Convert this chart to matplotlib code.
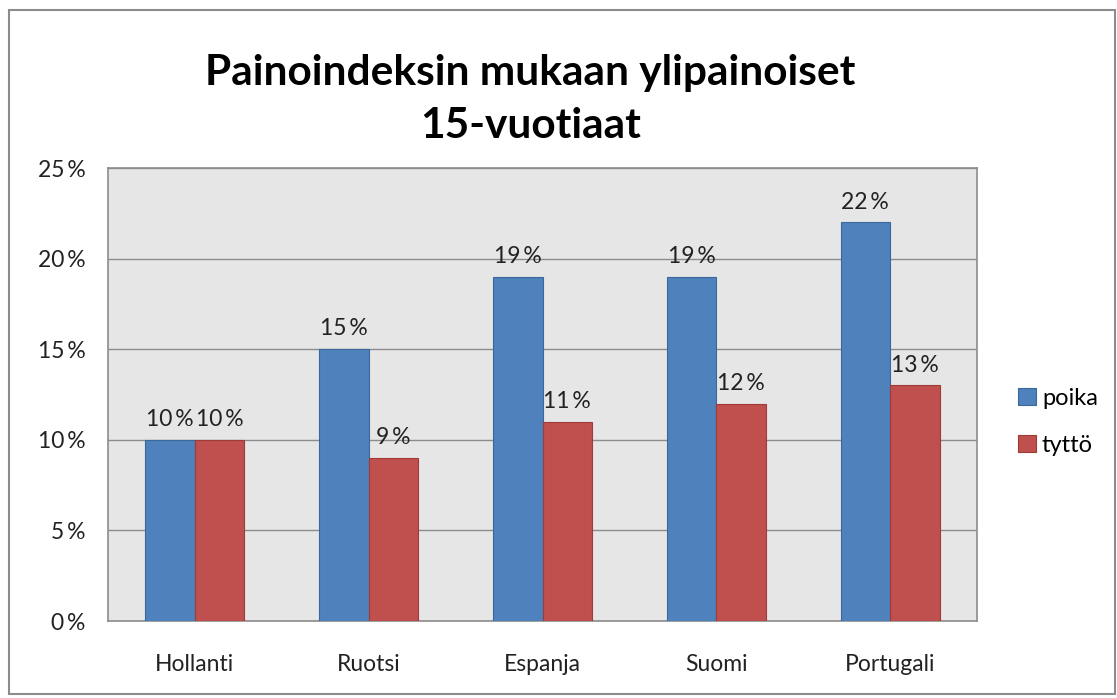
import numpy as np
import matplotlib
matplotlib.use("Agg")
import matplotlib.pyplot as plt
from matplotlib.patches import Rectangle

# Data
countries = ["Hollanti", "Ruotsi", "Espanja", "Suomi", "Portugali"]
poika = [10, 15, 19, 19, 22]
tytto = [10, 9, 11, 12, 13]
yticks = [0, 5, 10, 15, 20, 25]

BLUE = "#4F81BD"
RED = "#C0504D"
FONT = "Lato"

plt.rcParams["font.family"] = [FONT, "DejaVu Sans"]

fig = plt.figure(figsize=(11.17, 6.98), dpi=100)
ax = fig.add_axes([0.0967, 0.1103, 0.778, 0.649])

x = np.arange(len(countries))
w = 0.285
b1 = ax.bar(x - w / 2, poika, w, color=BLUE, edgecolor="#3A679C", linewidth=0.8,
            label="poika", zorder=3)
b2 = ax.bar(x + w / 2, tytto, w, color=RED, edgecolor="#9E3B38", linewidth=0.8,
            label="tyttö", zorder=3)

for bars, vals in [(b1, poika), (b2, tytto)]:
    for rect, v in zip(bars, vals):
        ax.annotate(f"{v}\u2009%", (rect.get_x() + rect.get_width() / 2, v),
                    xytext=(0, 7), textcoords="offset points",
                    ha="center", va="bottom", fontsize=16.5, color="#222222")

ax.set_xlim(-0.5, len(countries) - 0.5)
ax.set_ylim(0, 25)
ax.set_yticks(yticks)
ax.set_yticklabels([f"{t}\u2009%" for t in yticks], fontsize=16.5)
ax.set_xticks(x)
ax.set_xticklabels(countries, fontsize=16.5)
ax.tick_params(length=0, colors="#222222")
ax.tick_params(axis="x", pad=24)
ax.tick_params(axis="y", pad=16)

ax.set_facecolor("#E6E6E6")
ax.grid(axis="y", color="#8C8C8C", linewidth=1, zorder=1)
for s in ax.spines.values():
    s.set_color("#8C8C8C")
    s.set_linewidth(1.2)

ax.legend(loc="center left", bbox_to_anchor=(1.023, 0.44), frameon=False,
          fontsize=17, handlelength=0.75, handleheight=0.75, labelspacing=1.1,
          handletextpad=0.25)

fig.text(0.475, 0.895, "Painoindeksin mukaan ylipainoiset", ha="center", va="center",
         fontsize=30.5, fontweight="bold")
fig.text(0.475, 0.82, "15-vuotiaat", ha="center", va="center",
         fontsize=30.5, fontweight="bold")

fig.patches.append(Rectangle((9 / 1117, 4 / 698), 1106 / 1117, 684 / 698,
                             transform=fig.transFigure, fill=False,
                             edgecolor="#8C8C8C", linewidth=1.5))

fig.savefig("out.png", dpi=100)
